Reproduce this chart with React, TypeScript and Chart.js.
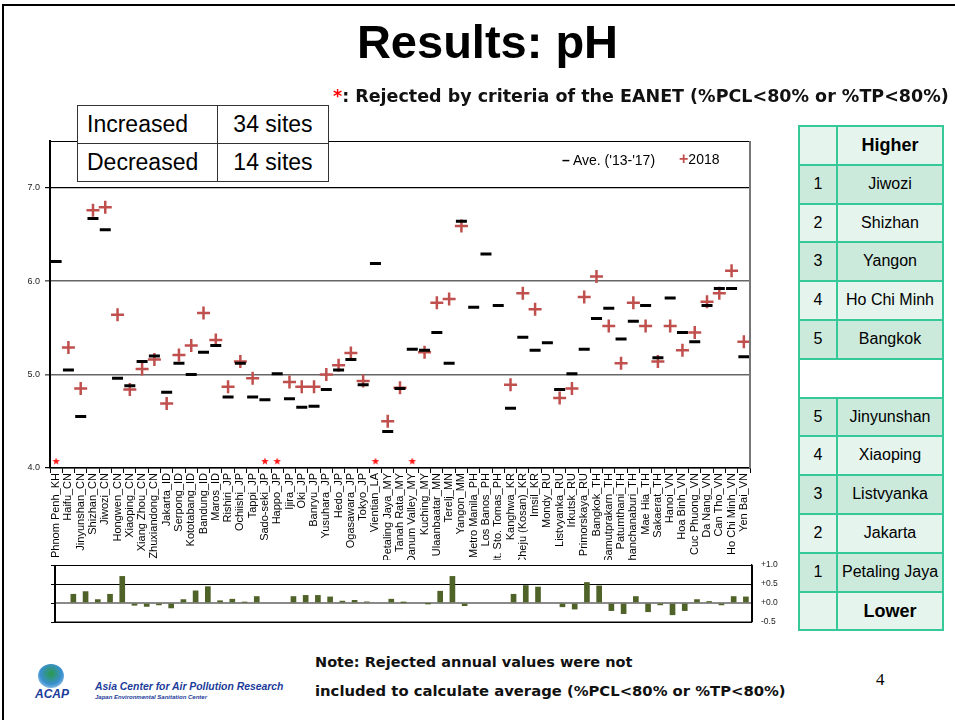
import React, { useEffect, useRef } from "react";
import { Chart, registerables } from "chart.js";

Chart.register(...registerables);

const sites = [
  "Phnom Penh_KH", "Haifu_CN", "Jinyunshan_CN", "Shizhan_CN", "Jiwozi_CN", "Hongwen_CN",
  "Xiaoping_CN", "Xiang Zhou_CN", "Zhuxiandong_CN", "Jakarta_ID", "Serpong_ID", "Kototabang_ID",
  "Bandung_ID", "Maros_ID", "Rishiri_JP", "Ochiishi_JP", "Tappi_JP", "Sado-seki_JP", "Happo_JP",
  "Ijira_JP", "Oki_JP", "Banryu_JP", "Yusuhara_JP", "Hedo_JP", "Ogasawara_JP", "Tokyo_JP",
  "Vientian_LA", "Petaling Jaya_MY", "Tanah Rata_MY", "Danum Valley_MY", "Kuching_MY",
  "Ulaanbaatar_MN", "Terelj_MN", "Yangon_MM", "Metro Manila_PH", "Los Banos_PH",
  "Mt. Sto. Tomas_PH", "Kanghwa_KR", "Cheju (Kosan)_KR", "Imsil_KR", "Mondy_RU",
  "Listvyanka_RU", "Irkutsk_RU", "Primorskaya_RU", "Bangkok_TH", "Samutprakarn_TH",
  "Patumthani_TH", "Khanchanaburi_TH", "Mae Hia_TH", "Sakaerat_TH", "Hanoi_VN", "Hoa Binh_VN",
  "Cuc Phuong_VN", "Da Nang_VN", "Can Tho_VN", "Ho Chi Minh_VN", "Yen Bai_VN",
];

const avg13to17 = [
  6.21, 5.05, 4.55, 6.67, 6.55, 4.96, 4.88, 5.14, 5.20, 4.81, 5.12, 5.00, 5.24, 5.31, 4.76,
  5.12, 4.76, 4.73, 5.01, 4.74, 4.65, 4.66, 4.84, 5.05, 5.16, 4.89, 6.19, 4.39, 4.85, 5.27,
  5.26, 5.45, 5.12, 6.64, 5.72, 6.29, 5.74, 4.64, 5.40, 5.26, 5.34, 4.84, 5.01, 5.27, 5.60,
  5.71, 5.38, 5.57, 5.74, 5.18, 5.82, 5.45, 5.35, 5.74, 5.92, 5.92, 5.19,
];

const ph2018 = [
  null, 5.29, 4.85, 6.76, 6.79, 5.64, 4.84, 5.06, 5.16, 4.69, 5.21, 5.31, 5.66, 5.37, 4.87,
  5.14, 4.96, null, null, 4.92, 4.87, 4.87, 5.00, 5.10, 5.23, 4.93, null, 4.50, 4.86, null,
  5.24, 5.77, 5.81, 6.59, null, null, null, 4.89, 5.87, 5.70, null, 4.75, 4.85, 5.83, 6.05,
  5.52, 5.12, 5.77, 5.52, 5.14, 5.52, 5.26, 5.45, 5.78, 5.87, 6.11, 5.35,
];

// 1 = 2018 value rejected by EANET criteria (marked with a red star)
const rejected2018 = [
  1, 0, 0, 0, 0, 0, 0, 0, 0, 0, 0, 0, 0, 0, 0, 0, 0, 1, 1, 0, 0, 0, 0, 0, 0, 0, 1, 0, 0, 1,
  0, 0, 0, 0, 0, 0, 0, 0, 0, 0, 0, 0, 0, 0, 0, 0, 0, 0, 0, 0, 0, 0, 0, 0, 0, 0, 0,
];

const change = [
  null, 0.23, 0.30, 0.09, 0.23, 0.70, -0.06, -0.09, -0.05, -0.13, 0.09, 0.32, 0.43, 0.06, 0.10,
  0.02, 0.17, null, null, 0.17, 0.20, 0.20, 0.16, 0.05, 0.07, 0.03, null, 0.10, 0.01, null,
  -0.01, 0.31, 0.70, -0.07, null, null, null, 0.23, 0.46, 0.42, null, -0.10, -0.16, 0.54, 0.45,
  -0.20, -0.28, 0.17, -0.23, -0.05, -0.31, -0.20, 0.09, 0.04, -0.05, 0.17, 0.16,
];

const phTicks = [4.0, 5.0, 6.0, 7.0];
const changeTicks = [-0.5, 0.0, 0.5, 1.0];

const summaryLabels = ["Increased", "Decreased"];
const summaryCounts = ["34 sites", "14 sites"];

const higherSites = ["Jiwozi", "Shizhan", "Yangon", "Ho Chi Minh", "Bangkok"];
const lowerSites = ["Jinyunshan", "Xiaoping", "Listvyanka", "Jakarta", "Petaling Jaya"];

const FONT = "Arial, 'Liberation Sans', Helvetica, sans-serif";
const WIDE = "'DejaVu Sans', Verdana, sans-serif";

const framePlugin = {
  id: "frame",
  afterDraw(chart: any, _args: any, opts: any) {
    const { ctx, chartArea: a } = chart;
    ctx.save();
    ctx.strokeStyle = opts.top || "#000";
    ctx.lineWidth = 1.2;
    ctx.beginPath();
    ctx.moveTo(a.left, a.top + 0.5);
    ctx.lineTo(a.right, a.top + 0.5);
    ctx.stroke();
    ctx.strokeStyle = opts.right || "#777";
    ctx.lineWidth = 2;
    ctx.beginPath();
    ctx.moveTo(a.right, a.top);
    ctx.lineTo(a.right, a.bottom);
    ctx.stroke();
    if (opts.leftTicks) {
      const y = chart.scales.y;
      ctx.strokeStyle = "#000";
      ctx.lineWidth = 2;
      ctx.beginPath();
      ctx.moveTo(a.left, a.top);
      ctx.lineTo(a.left, a.bottom);
      ctx.stroke();
      ctx.lineWidth = 1;
      for (const v of opts.leftTicks) {
        const py = Math.round(y.getPixelForValue(v)) + 0.5;
        ctx.beginPath();
        ctx.moveTo(a.left - 4, py);
        ctx.lineTo(a.left, py);
        ctx.stroke();
      }
      ctx.beginPath();
      ctx.moveTo(a.left, a.bottom);
      ctx.lineTo(a.right, a.bottom);
      ctx.stroke();
    }
    ctx.restore();
  },
};

function makeStar(): HTMLCanvasElement {
  const c = document.createElement("canvas");
  c.width = 8;
  c.height = 8;
  const g = c.getContext("2d")!;
  g.fillStyle = "#ff1a1a";
  g.beginPath();
  for (let i = 0; i < 10; i++) {
    const r = i % 2 === 0 ? 4 : 1.7;
    const ang = -Math.PI / 2 + (i * Math.PI) / 5;
    const x = 4 + r * Math.cos(ang);
    const y = 4.4 + r * Math.sin(ang);
    if (i === 0) g.moveTo(x, y);
    else g.lineTo(x, y);
  }
  g.closePath();
  g.fill();
  return c;
}

export default function App() {
  const mainRef = useRef<HTMLCanvasElement>(null);
  const diffRef = useRef<HTMLCanvasElement>(null);

  useEffect(() => {
    const star = makeStar();
    const starData = rejected2018.map((f) => (f ? 4.075 : null));

    const main = new Chart(mainRef.current!, {
      type: "line",
      data: {
        labels: sites,
        datasets: [
          {
            label: "Ave. ('13-'17)",
            data: avg13to17,
            showLine: false,
            pointStyle: "line",
            pointRadius: 5.5,
            pointBorderWidth: 3,
            borderColor: "#000",
            backgroundColor: "#000",
          },
          {
            label: "2018",
            data: ph2018 as any,
            showLine: false,
            pointStyle: "cross",
            pointRadius: 6.5,
            pointBorderWidth: 2.5,
            borderColor: "#C0504D",
            backgroundColor: "#C0504D",
          },
          {
            label: "rejected",
            data: starData as any,
            showLine: false,
            pointStyle: star as any,
            pointRadius: 4,
          },
        ],
      },
      options: {
        responsive: false,
        animation: false,
        events: [],
        layout: { padding: { left: 0, top: 141, right: 205, bottom: 0 } },
        plugins: {
          legend: { display: false },
          tooltip: { enabled: false },
          frame: { top: "#000", right: "#777" },
        } as any,
        scales: {
          x: {
            type: "category",
            offset: true,
            grid: {
              display: true,
              drawOnChartArea: false,
              drawTicks: true,
              tickLength: 5,
              offset: true,
              color: "#000",
              lineWidth: 1,
            },
            border: { display: true, color: "#000", width: 1.5 },
            ticks: {
              autoSkip: false,
              maxRotation: 90,
              minRotation: 90,
              padding: 0,
              color: "#000",
              font: { family: FONT, size: 11 },
            },
            afterFit: (s: any) => {
              s.height = 92;
            },
          },
          y: {
            min: 4,
            max: 7.5,
            afterBuildTicks: (s: any) => {
              s.ticks = phTicks.map((v) => ({ value: v }));
            },
            ticks: {
              callback: (v: any) => Number(v).toFixed(1),
              color: "#222",
              padding: 5,
              font: { family: FONT, size: 9 },
            },
            grid: {
              color: (c: any) => (c.tick && c.tick.value === 7 ? "#000" : c.tick && c.tick.value === 4 ? "#000" : "#666"),
              lineWidth: (c: any) => (c.tick && (c.tick.value === 6 || c.tick.value === 5) ? 1.6 : 1.2),
              tickLength: 5,
            },
            border: { display: true, color: "#000", width: 2 },
            afterFit: (s: any) => {
              s.width = 50;
            },
          },
        },
      } as any,
      plugins: [framePlugin],
    });

    const diff = new Chart(diffRef.current!, {
      type: "bar",
      data: {
        labels: sites,
        datasets: [
          {
            label: "2018 - Ave.",
            data: change as any,
            backgroundColor: "#4F6228",
            borderColor: "#4F6228",
            barThickness: 5,
          },
        ],
      },
      options: {
        responsive: false,
        animation: false,
        events: [],
        layout: { padding: { left: 55, top: 25, right: 165, bottom: 18 } },
        plugins: {
          legend: { display: false },
          tooltip: { enabled: false },
          frame: { top: "#000", right: "#000", leftTicks: changeTicks },
        } as any,
        scales: {
          x: { display: false, offset: true },
          y: {
            position: "right",
            min: -0.5,
            max: 1.0,
            afterBuildTicks: (s: any) => {
              s.ticks = changeTicks.map((v) => ({ value: v }));
            },
            ticks: {
              callback: (v: any) => (Number(v) >= 0 ? "+" : "") + Number(v).toFixed(1),
              color: "#222",
              padding: 9,
              font: { family: FONT, size: 8.5 },
            },
            grid: {
              drawTicks: false,
              color: (c: any) => (c.tick && c.tick.value === 0 ? "#8a8a8a" : "#000"),
              lineWidth: (c: any) => (c.tick && c.tick.value === 0 ? 2 : 1),
            },
            border: { display: true, color: "#000", width: 1.2 },
            afterFit: (s: any) => {
              s.width = 38;
            },
          },
        },
      } as any,
      plugins: [framePlugin],
    });

    return () => {
      main.destroy();
      diff.destroy();
    };
  }, []);

  const cellBorder = "2px solid #35C99A";
  const dark = "#CCEADC";
  const light = "#E6F4EE";
  const rowH = 38.8;

  const rankRows: { num: string; name: string; bg: string; bold?: boolean }[] = [
    { num: "", name: "Higher", bg: light, bold: true },
    ...higherSites.map((n, i) => ({ num: String(i + 1), name: n, bg: i % 2 === 0 ? dark : light })),
    { num: "", name: "", bg: "#fff" },
    ...lowerSites.map((n, i) => ({ num: String(5 - i), name: n, bg: i % 2 === 0 ? dark : light })),
    { num: "", name: "Lower", bg: light, bold: true },
  ];

  return (
    <div
      style={{
        position: "fixed",
        left: 0,
        top: 0,
        width: 955,
        height: 720,
        background: "#fff",
        overflow: "hidden",
        fontFamily: FONT,
      }}
    >
      {/* slide border */}
      <div style={{ position: "absolute", left: 2, top: 4, width: 960, height: 720, borderLeft: "2px solid #000", borderTop: "2px solid #000" }} />

      <canvas ref={mainRef} width={955} height={560} style={{ position: "absolute", left: 0, top: 0, width: 955, height: 560 }} />
      <canvas ref={diffRef} width={955} height={100} style={{ position: "absolute", left: 0, top: 540, width: 955, height: 100 }} />

      {/* title */}
      <div style={{ position: "absolute", left: 300, width: 375, top: 15, textAlign: "center", fontSize: 47, fontWeight: "bold", lineHeight: "54px", color: "#000" }}>
        Results: pH
      </div>

      <div style={{ position: "absolute", left: 333, top: 84, fontSize: 17.5, fontWeight: "bold", lineHeight: "24px", color: "#111", whiteSpace: "nowrap", fontFamily: WIDE }}>
        <span style={{ color: "#ff0000" }}>*</span>: Rejected by criteria of the EANET (%PCL&lt;80% or %TP&lt;80%)
      </div>

      {/* summary table */}
      <div style={{ position: "absolute", left: 77, top: 105, width: 250, background: "#fff", border: "1.5px solid #333", zIndex: 2 }}>
        {summaryLabels.map((lab, i) => (
          <div key={lab} style={{ display: "flex", height: 37, borderTop: i ? "1.5px solid #333" : "none" }}>
            <div style={{ width: 140, borderRight: "1.5px solid #333", fontSize: 23, lineHeight: "37px", paddingLeft: 9, boxSizing: "border-box" }}>{lab}</div>
            <div style={{ flex: 1, fontSize: 23, lineHeight: "37px", textAlign: "center" }}>{summaryCounts[i]}</div>
          </div>
        ))}
      </div>

      {/* legend */}
      <div style={{ position: "absolute", left: 562, top: 151, fontSize: 14, lineHeight: "18px", whiteSpace: "nowrap", color: "#000" }}>
        <span style={{ fontWeight: "bold" }}>–</span> Ave. ('13-'17)
      </div>
      <div style={{ position: "absolute", left: 679, top: 150, fontSize: 14, lineHeight: "18px", whiteSpace: "nowrap", color: "#000" }}>
        <span style={{ color: "#C0504D", fontWeight: "bold", fontSize: 16 }}>+</span>2018
      </div>

      {/* ranking table */}
      <div style={{ position: "absolute", left: 798, top: 125, width: 144, borderTop: cellBorder, borderLeft: cellBorder, zIndex: 2 }}>
        {rankRows.map((r, i) => (
          <div key={i} style={{ display: "flex", height: rowH, boxSizing: "border-box", borderBottom: cellBorder, background: r.bg }}>
            <div style={{ width: 38, boxSizing: "border-box", borderRight: r.bg === "#fff" ? "none" : cellBorder, fontSize: 16, lineHeight: `${rowH - 2}px`, textAlign: "center" }}>{r.num}</div>
            <div style={{ flex: 1, boxSizing: "border-box", borderRight: cellBorder, fontSize: r.bold ? 18 : 16, fontWeight: r.bold ? "bold" : "normal", lineHeight: `${rowH - 2}px`, textAlign: "center", whiteSpace: "nowrap" }}>{r.name}</div>
          </div>
        ))}
      </div>

      {/* footer logo */}
      <div style={{ position: "absolute", left: 38, top: 664, width: 26, height: 24, borderRadius: "50%", background: "radial-gradient(circle at 50% 40%, #2a9a4a 0%, #3a8fd0 55%, #d8ecf8 100%)" }} />
      <div style={{ position: "absolute", left: 35, top: 687, fontSize: 12, fontWeight: "bold", fontStyle: "italic", color: "#1b3c9a", lineHeight: "14px" }}>ACAP</div>
      <div style={{ position: "absolute", left: 95, top: 681, fontSize: 10.4, fontWeight: "bold", fontStyle: "italic", color: "#1b3c9a", lineHeight: "12px", whiteSpace: "nowrap" }}>
        Asia Center for Air Pollution Research
      </div>
      <div style={{ position: "absolute", left: 95, top: 693, fontSize: 6, fontWeight: "bold", fontStyle: "italic", color: "#1b3c9a", lineHeight: "8px", whiteSpace: "nowrap" }}>
        Japan Environmental Sanitation Center
      </div>

      {/* note */}
      <div style={{ position: "absolute", left: 315, top: 651, fontSize: 14.5, fontWeight: "bold", lineHeight: "22px", whiteSpace: "nowrap", color: "#111", fontFamily: WIDE }}>
        Note: Rejected annual values were not
      </div>
      <div style={{ position: "absolute", left: 315, top: 680, fontSize: 14.8, fontWeight: "bold", lineHeight: "22px", whiteSpace: "nowrap", color: "#111", fontFamily: WIDE }}>
        included to calculate average (%PCL&lt;80% or %TP&lt;80%)
      </div>
      <div style={{ position: "absolute", left: 876, top: 670, fontSize: 17, fontFamily: "'Liberation Serif', 'DejaVu Serif', serif", lineHeight: "20px" }}>4</div>
    </div>
  );
}
